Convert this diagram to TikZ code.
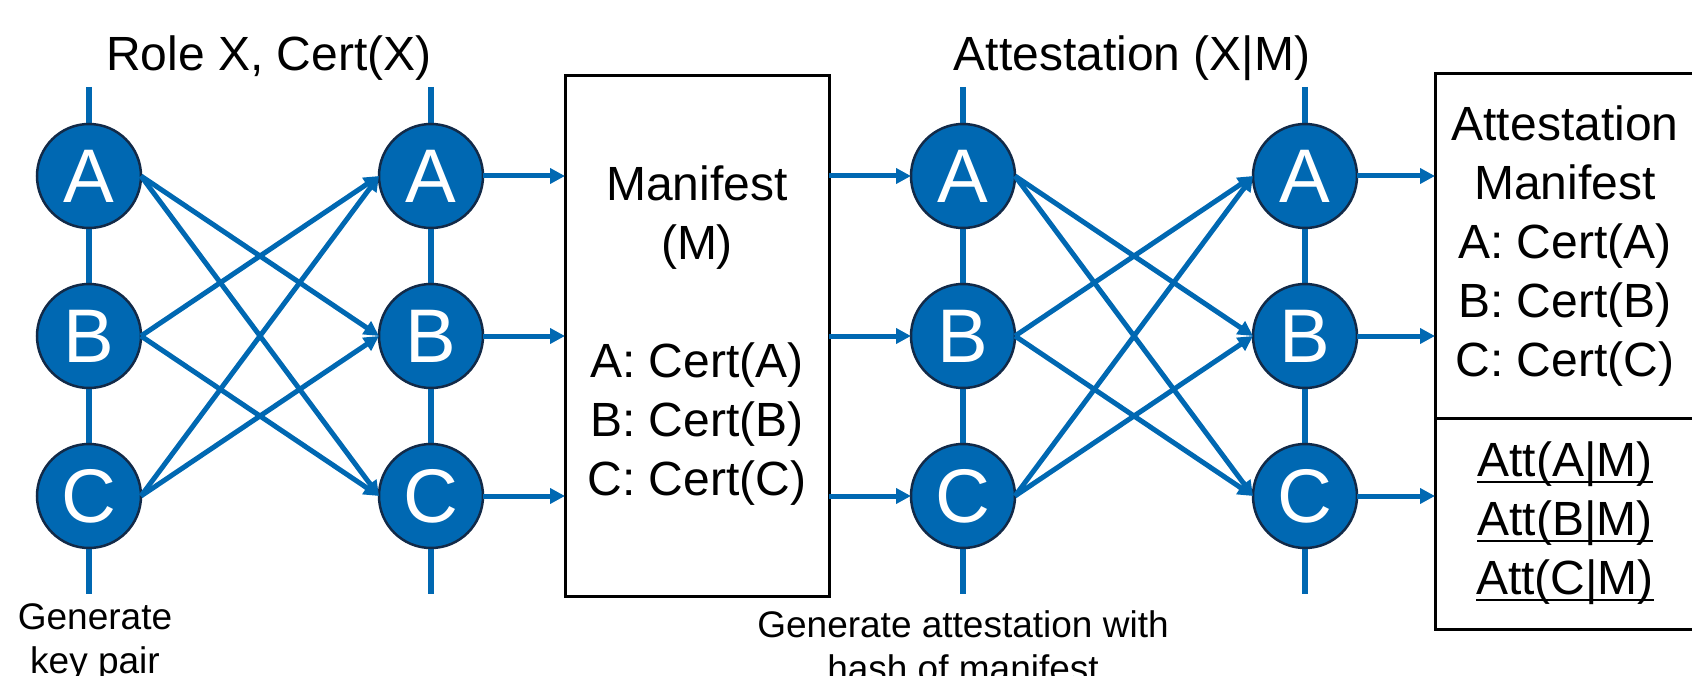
\documentclass[tikz,border=0pt]{standalone}
\usepackage{fontspec}
\setmainfont{Liberation Sans}
\usetikzlibrary{positioning}
\usetikzlibrary{arrows.meta}
\usetikzlibrary{backgrounds}
\definecolor{keyblue}{RGB}{0,104,178}
\definecolor{keyrim}{RGB}{18,42,72}
\newsavebox{\ulbox}
\newcommand{\ulattr}[1]{\sbox\ulbox{#1}\rlap{\rule[-6pt]{\wd\ulbox}{2pt}}\usebox\ulbox}

\begin{document}
\begin{tikzpicture}[x=1pt, y=-1pt,
                    node distance=56pt and 238pt,
                    keynode/.style={circle, draw=keyrim, fill=keyblue, line width=2.5pt, minimum size=104pt, inner sep=0pt, outer sep=0pt, text=white, font=\fontsize{76}{76}\selectfont},
                    boxnode/.style={rectangle, draw=black, line width=3pt, inner sep=0pt, outer sep=0pt, align=center, font=\fontsize{48}{59}\selectfont},
                    titlenode/.style={inner sep=0pt, font=\fontsize{48}{58}\selectfont},
                    notenode/.style={inner sep=0pt, align=center, font=\fontsize{37}{44}\selectfont},
                    link/.style={-{Triangle[length=15pt, width=15pt]}, line width=5pt, draw=keyblue},
                    bus/.style={line width=5.5pt, draw=keyblue}
                   ]
\useasboundingbox (0,0) rectangle (1692,676);
%Nodes
\node[keynode] (A1) at (89,176) {A};
\node[keynode] (B1) [below=of A1] {B};
\node[keynode] (C1) [below=of B1] {C};
\node[keynode] (A2) [right=of A1] {A};
\node[keynode] (B2) [right=of B1] {B};
\node[keynode] (C2) [right=of C1] {C};
\node[boxnode, minimum width=264pt, minimum height=521pt] (M) [right=82pt of B2]
  {Manifest\\(M)\\[59pt]A: Cert(A)\\B: Cert(B)\\C: Cert(C)};
\node[keynode] (B3) [right=82pt of M] {B};
\node[keynode] (A3) [above=of B3] {A};
\node[keynode] (C3) [below=of B3] {C};
\node[keynode] (A4) [right=of A3] {A};
\node[keynode] (B4) [right=of B3] {B};
\node[keynode] (C4) [right=of C3] {C};
\node[boxnode, anchor=north west, minimum width=260pt, minimum height=344pt] (AM) at (1435,74)
  {Attestation\\Manifest\\A: Cert(A)\\B: Cert(B)\\C: Cert(C)};
\node[boxnode, minimum width=260pt, minimum height=211pt] (AS) [below=0pt of AM]
  {\ulattr{Att(A|M)}\\\ulattr{Att(B|M)}\\\ulattr{Att(C|M)}};
%Labels
\node[titlenode, anchor=base] (roletitle) at (269,71) {Role X, Cert(X)};
\node[titlenode, anchor=base] (atttitle) at (1132,71) {Attestation (X|M)};
\node[notenode, anchor=base] (keynote) at (95,673) {Generate\\key pair};
\node[notenode, anchor=base] (attnote) at (963,681) {Generate attestation with\\hash of manifest};
% %Lines
\begin{scope}[on background layer]
\foreach \c in {1,2,3,4}
  \draw[bus] ([yshift=37pt]A\c.north) -- ([yshift=-46pt]C\c.south);
\end{scope}
\foreach \s/\t in {A/B, A/C, B/A, B/C, C/A, C/B}{
  \draw[link] (\s1.east) -- (\t2.west);
  \draw[link] (\s3.east) -- (\t4.west);
}
\foreach \r in {A,B,C}{
  \draw[link] (\r2.east) -- (\r2.east -| M.west);
  \draw[link] (\r3.west -| M.east) -- (\r3.west);
  \draw[link] (\r4.east) -- (\r4.east -| AM.west);
}
\end{tikzpicture}
\end{document}
